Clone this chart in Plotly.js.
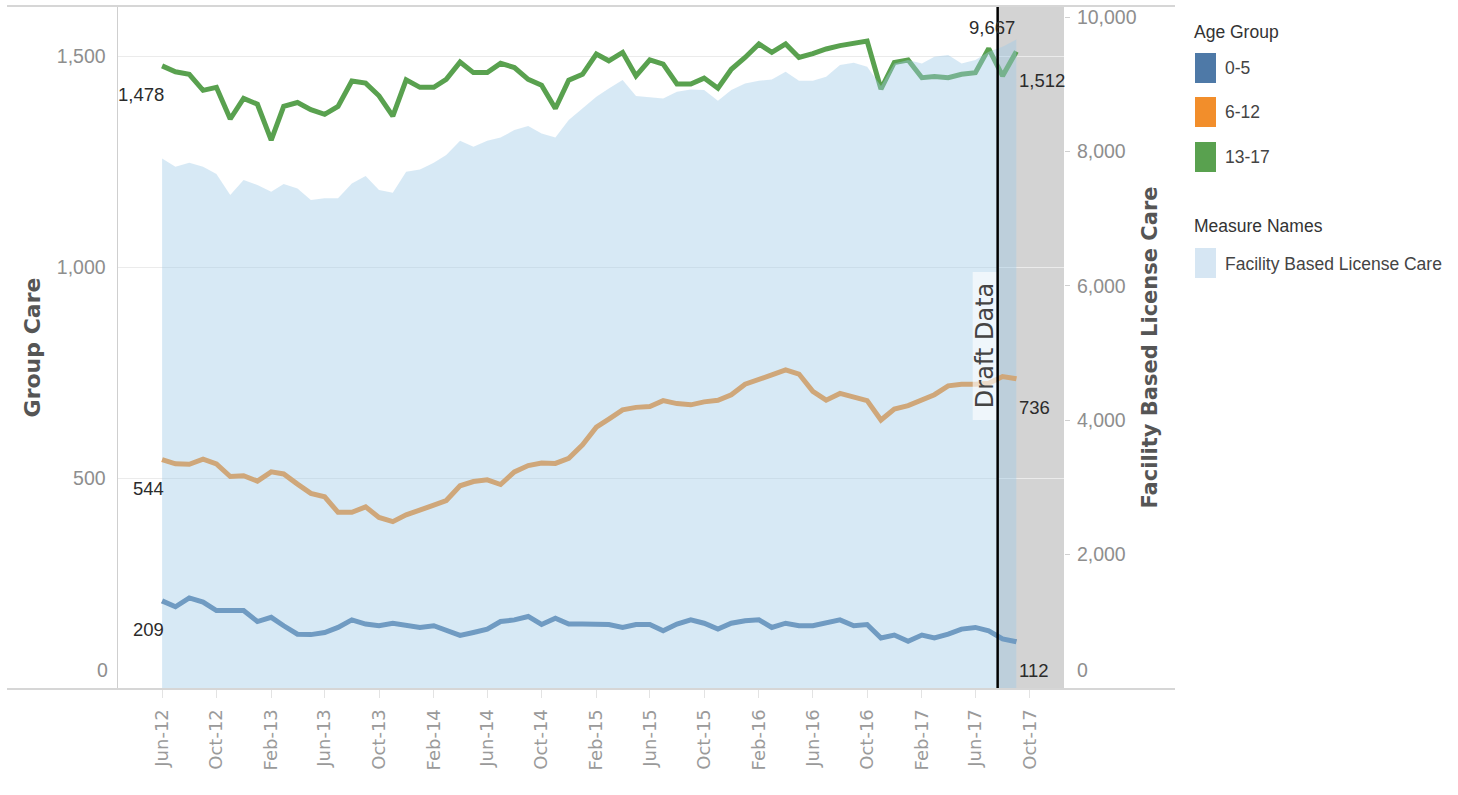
<!DOCTYPE html>
<html>
<head>
<meta charset="utf-8">
<script src="https://cdn.plot.ly/plotly-3.0.1.min.js"></script>
<style>
  html, body { margin: 0; padding: 0; background: #ffffff; }
  #chart { width: 1458px; height: 795px; }
</style>
</head>
<body>
<div id="chart"></div>
<script>
// Monthly reporting periods
const months = [
  '2012-06','2012-07','2012-08','2012-09','2012-10','2012-11','2012-12',
  '2013-01','2013-02','2013-03','2013-04','2013-05','2013-06','2013-07','2013-08','2013-09','2013-10','2013-11','2013-12',
  '2014-01','2014-02','2014-03','2014-04','2014-05','2014-06','2014-07','2014-08','2014-09','2014-10','2014-11','2014-12',
  '2015-01','2015-02','2015-03','2015-04','2015-05','2015-06','2015-07','2015-08','2015-09','2015-10','2015-11','2015-12',
  '2016-01','2016-02','2016-03','2016-04','2016-05','2016-06','2016-07','2016-08','2016-09','2016-10','2016-11','2016-12',
  '2017-01','2017-02','2017-03','2017-04','2017-05','2017-06','2017-07','2017-08','2017-09'
];

// Group care counts by age group
const ageGroups = ['0-5', '6-12', '13-17'];
const groupCare0to5 = [
  209,195,216,206,186,186,186,160,170,150,130,129,134,146,164,154,150,156,150,146,150,138,127,134,142,160,164,172,153,168,154,154,
  154,153,146,153,153,138,154,164,156,142,156,162,164,146,156,150,150,156,164,150,153,121,128,113,128,121,130,142,146,138,119,112
];
const groupCare6to12 = [
  544,534,533,545,534,504,506,493,515,510,486,464,456,419,419,432,407,397,413,423,436,447,482,492,496,485,515,530,536,535,547,579,
  621,640,662,668,670,684,677,674,681,685,698,723,733,745,757,747,706,685,701,693,684,638,664,672,684,698,719,723,723,725,741,736
];
const groupCare13to17 = [
  1478,1464,1458,1420,1427,1352,1401,1387,1302,1382,1391,1374,1363,1382,1442,1437,1407,1359,1445,1427,1427,1446,1487,1462,1462,1484,1474,1446,1432,1377,1444,1458,
  1506,1490,1510,1454,1492,1482,1435,1435,1449,1425,1470,1498,1530,1510,1530,1498,1507,1518,1526,1532,1537,1423,1486,1492,1450,1453,1450,1458,1462,1519,1454,1512
];

// Facility based license care totals
const measureName = 'Facility Based License Care';
const facilityCare = [
  7897,7773,7833,7773,7664,7351,7574,7500,7401,7515,7450,7277,7302,7302,7525,7634,7426,7386,7698,7733,7833,7946,8160,8071,8160,8209,8318,8378,8269,8209,8467,8641,
  8815,8938,9062,8824,8805,8790,8889,8924,8914,8755,8914,9013,9053,9072,9187,9053,9053,9112,9286,9320,9261,8973,9311,9360,9311,9410,9435,9311,9360,9484,9558,9667
];

// Axis ticks
const leftTicks = [0, 500, 1000, 1500];
const rightTicks = [0, 2000, 4000, 6000, 8000, 10000];
const draftLabel = 'Draft Data';
const draftStart = '2017-07-21';

// ---- styling ----
const colors = { '0-5': '#4e79a7', '6-12': '#f28e2b', '13-17': '#59a14f' };
const areaFill = 'rgba(160,203,232,0.42)';
const legendAreaSwatch = '#d6e6f3';
const narrow = '"Liberation Sans Narrow", "Arial Narrow", "Liberation Sans", sans-serif';
const wide = '"DejaVu Sans", sans-serif';
const tickGray = '#8e8e8e';

const W = 1458, H = 795, ML = 118, MR = 394, MT = 6, MB = 106;
const plotW = W - ML - MR, plotH = H - MT - MB;
const px = v => (v - ML) / plotW;          // pixel -> paper x
const py = v => (H - MB - v) / plotH;      // pixel -> paper y
const xRange = ['2012-02-23', '2017-12-17'];
const fmt = v => v.toLocaleString('en-US');

const groupSeries = [groupCare0to5, groupCare6to12, groupCare13to17];

const traces = groupSeries.map((vals, i) => ({
  type: 'scatter', mode: 'lines', name: ageGroups[i],
  x: months, y: vals, xaxis: 'x', yaxis: 'y',
  line: { color: colors[ageGroups[i]], width: 5, shape: 'linear' },
  hoverinfo: 'skip'
}));

// Area on the overlaying axis so it sits on top of the lines
traces.push({
  type: 'scatter', mode: 'lines', name: measureName,
  x: months, y: facilityCare, xaxis: 'x', yaxis: 'y2',
  fill: 'tozeroy', fillcolor: areaFill,
  line: { width: 0, color: 'rgba(0,0,0,0)' },
  hoverinfo: 'skip'
});

const last = months.length - 1;
const labelFont = { family: narrow, size: 18.5, color: '#2b2b2b' };
const tickFont = { family: narrow, size: 19.5, color: tickGray };

const annotations = [];
groupSeries.forEach(vals => {
  annotations.push({
    xref: 'x', yref: 'y', x: months[0], y: vals[0], text: fmt(vals[0]),
    showarrow: false, xanchor: 'right', yanchor: 'middle', xshift: 4, yshift: -29, font: labelFont
  });
  annotations.push({
    xref: 'x', yref: 'y', x: months[last], y: vals[last], text: fmt(vals[last]),
    showarrow: false, xanchor: 'left', yanchor: 'middle', xshift: 1, yshift: -29, font: labelFont
  });
});
annotations.push({
  xref: 'x', yref: 'y2', x: months[last], y: facilityCare[last], text: fmt(facilityCare[last]),
  showarrow: false, xanchor: 'center', yanchor: 'middle', xshift: -24, yshift: 12, font: labelFont
});

// zero labels sit just above the baseline
annotations.push({
  xref: 'paper', yref: 'y', x: 0, y: leftTicks[0], text: fmt(leftTicks[0]),
  showarrow: false, xanchor: 'right', yanchor: 'middle', xshift: -8, yshift: 19, font: tickFont
});
annotations.push({
  xref: 'paper', yref: 'y2', x: 1, y: rightTicks[0], text: fmt(rightTicks[0]),
  showarrow: false, xanchor: 'left', yanchor: 'middle', xshift: 11, yshift: 19, font: tickFont
});

// draft data marker text
annotations.push({
  xref: 'x', yref: 'paper', x: '2017-06-23', y: py(346), text: draftLabel,
  showarrow: false, textangle: -90, xanchor: 'center', yanchor: 'middle',
  font: { family: wide, size: 24, color: '#444444' }
});

// legend
const legendFontTitle = { family: narrow, size: 17.5, color: '#333333' };
const legendFontItem = { family: narrow, size: 17.5, color: '#444444' };
annotations.push({ xref: 'paper', yref: 'paper', x: px(1192), y: py(32), text: 'Age Group',
  showarrow: false, xanchor: 'left', yanchor: 'middle', font: legendFontTitle });
const itemCenters = [68, 112, 157];
ageGroups.forEach((g, i) => {
  annotations.push({ xref: 'paper', yref: 'paper', x: px(1223), y: py(itemCenters[i]), text: g,
    showarrow: false, xanchor: 'left', yanchor: 'middle', font: legendFontItem });
});
annotations.push({ xref: 'paper', yref: 'paper', x: px(1192), y: py(226), text: 'Measure Names',
  showarrow: false, xanchor: 'left', yanchor: 'middle', font: legendFontTitle });
annotations.push({ xref: 'paper', yref: 'paper', x: px(1223), y: py(264), text: measureName,
  showarrow: false, xanchor: 'left', yanchor: 'middle', font: legendFontItem });

const shapes = [
  // draft period band
  { type: 'rect', xref: 'x', yref: 'paper', x0: draftStart, x1: xRange[1], y0: 0, y1: 1,
    fillcolor: '#d3d3d3', line: { width: 0 }, layer: 'below' },
  // label backdrop
  { type: 'rect', xref: 'x', yref: 'paper', x0: '2017-05-26', x1: '2017-07-19', y0: py(420), y1: py(272),
    fillcolor: 'rgba(255,255,255,0.6)', line: { width: 0 }, layer: 'above' },
  // draft start line
  { type: 'line', xref: 'x', yref: 'paper', x0: draftStart, x1: draftStart, y0: 0, y1: 1,
    line: { color: '#000000', width: 2.5 }, layer: 'above' },
  // pane borders
  { type: 'line', xref: 'paper', yref: 'paper', x0: px(7), x1: px(1175), y0: 1, y1: 1,
    line: { color: '#d6d6d6', width: 2 }, layer: 'above' },
  { type: 'line', xref: 'paper', yref: 'paper', x0: px(7), x1: px(1175), y0: 0, y1: 0,
    line: { color: '#d6d6d6', width: 2 }, layer: 'above' }
];

// legend swatches
const swatchTops = [53, 97, 142];
ageGroups.forEach((g, i) => {
  shapes.push({ type: 'rect', xref: 'paper', yref: 'paper', x0: px(1195), x1: px(1216),
    y0: py(swatchTops[i] + 30), y1: py(swatchTops[i]), fillcolor: colors[g], line: { width: 0 } });
});
shapes.push({ type: 'rect', xref: 'paper', yref: 'paper', x0: px(1195), x1: px(1216),
  y0: py(278), y1: py(248), fillcolor: legendAreaSwatch, line: { width: 0 } });

const layout = {
  width: W, height: H,
  margin: { l: ML, r: MR, t: MT, b: MB, pad: 0 },
  paper_bgcolor: '#ffffff', plot_bgcolor: 'rgba(0,0,0,0)',
  showlegend: false,
  xaxis: {
    type: 'date', range: xRange,
    tick0: '2012-06-01', dtick: 'M4', tickformat: '%b-%y', tickangle: -90,
    ticks: 'outside', ticklen: 8, tickcolor: '#e3e3e3', tickwidth: 1,
    showgrid: false, zeroline: false, showline: false,
    tickfont: { family: wide, size: 18, color: '#9a9a9a' },
    ticklabelstandoff: 4, fixedrange: true
  },
  yaxis: {
    range: [0, 1620], tickvals: leftTicks.slice(1), tickformat: ',d',
    showgrid: true, gridcolor: '#ebebeb', gridwidth: 1,
    zeroline: false, showline: true, linecolor: '#cfcfcf', linewidth: 1.5,
    ticks: '', tickfont: tickFont,
    ticklabelstandoff: 7,
    title: { text: 'Group Care', standoff: 10,
      font: { family: wide, size: 22, color: '#555555', weight: 'bold' } },
    fixedrange: true
  },
  yaxis2: {
    overlaying: 'y', side: 'right', range: [0, 10165],
    tickvals: rightTicks.slice(1), tickformat: ',d',
    showgrid: false, zeroline: false, showline: false,
    ticks: 'outside', ticklen: 5, tickcolor: '#d0d0d0',
    tickfont: tickFont,
    ticklabelstandoff: 3,
    title: { text: measureName, standoff: 6,
      font: { family: wide, size: 21, color: '#555555', weight: 'bold' } },
    fixedrange: true
  },
  shapes: shapes,
  annotations: annotations
};

Plotly.newPlot('chart', traces, layout, { staticPlot: true, displayModeBar: false });
</script>
</body>
</html>
